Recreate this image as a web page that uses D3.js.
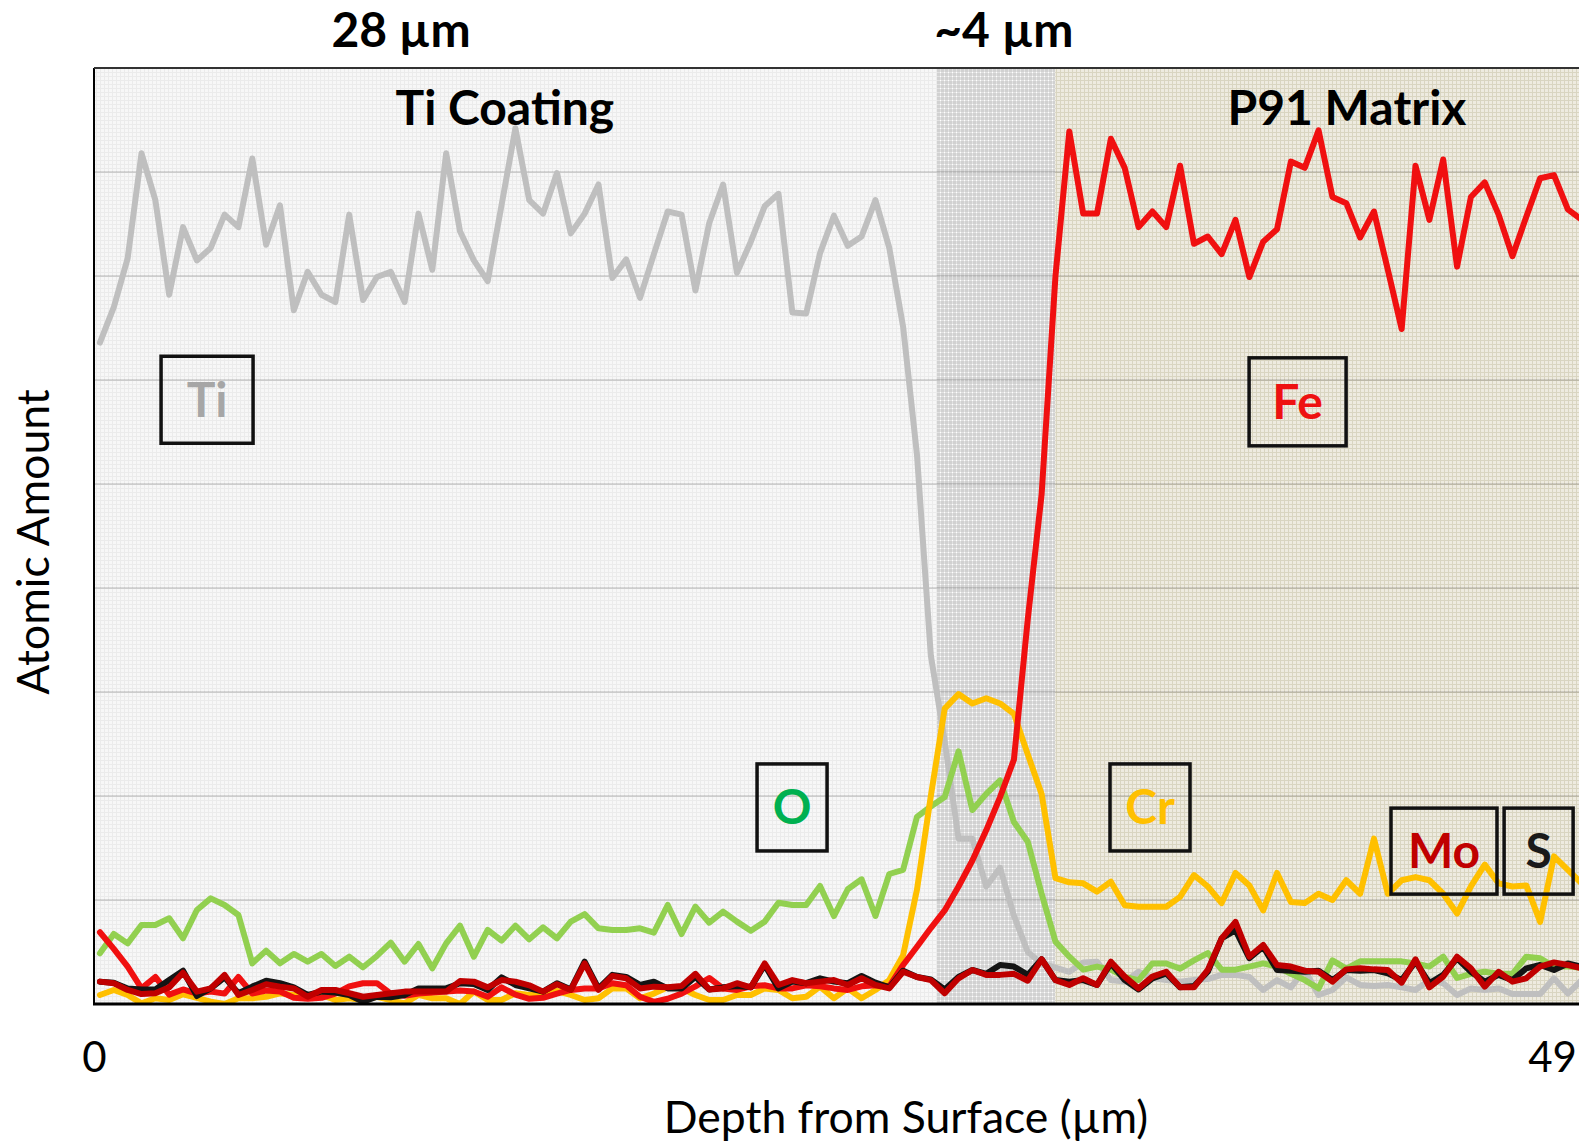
<!DOCTYPE html>
<html>
<head>
<meta charset="utf-8">
<script src="https://cdn.jsdelivr.net/npm/d3@7"></script>
<style>
  html, body { margin: 0; padding: 0; background: #fff; }
  svg { display: block; font-family: Lato, "Open Sans", sans-serif; }
</style>
</head>
<body>
<div id="chart"></div>
<script>
// CONST and DATA

// depth of sample i = depthStart + i * depthStep (µm)
const depthStart = 0.2;
const depthStep = 0.4654;

const ti = [63.6, 67.0, 71.7, 81.8, 77.3, 68.2, 74.7, 71.5, 72.7, 75.9, 74.7, 81.3, 73.0, 76.8, 66.7, 70.4, 68.2, 67.5, 75.9, 67.7,
  69.9, 70.4, 67.5, 76.0, 70.6, 81.8, 74.3, 71.5, 69.5, 76.8, 84.2, 77.3, 76.0, 79.9, 74.1, 76.0, 78.8, 69.8, 71.6, 67.9,
  72.1, 76.2, 75.9, 68.6, 75.1, 78.8, 70.3, 73.3, 76.7, 77.9, 66.5, 66.4, 72.2, 75.8, 72.9, 73.8, 77.3, 72.7, 65.1, 52.8,
  33.5, 25.3, 15.9, 15.9, 11.3, 13.1, 8.5, 5.0, 3.9, 3.5, 3.1, 4.0, 4.07, 2.3, 2.15, 3.1, 2.5, 2.3, 2.15, 2.3,
  2.4, 2.8, 2.8, 2.6, 1.35, 2.3, 1.6, 3.27, 0.87, 1.35, 2.56, 1.83, 1.73, 1.83, 1.6, 1.35, 2.3, 2.0, 0.87, 1.5,
  1.35, 1.5, 0.96, 0.96, 0.96, 2.47, 1.0, 2.3];

const fe = [6.9, 5.3, 3.6, 1.5, 2.6, 0.9, 1.4, 1.0, 1.2, 1.0, 2.6, 1.0, 1.3, 1.2, 0.6, 0.5, 0.6, 1.0, 1.7, 2.0,
  2.0, 1.0, 0.8, 1.0, 1.1, 1.2, 1.3, 1.2, 0.7, 1.6, 0.9, 0.5, 0.6, 1.0, 1.35, 1.5, 1.5, 2.0, 1.8, 0.7,
  0.2, 0.5, 1.0, 1.7, 2.5, 1.5, 1.35, 1.7, 1.8, 1.5, 1.5, 1.8, 1.7, 1.5, 1.35, 1.7, 1.8, 1.7, 3.75, 5.5,
  7.3, 9.0, 11.3, 13.8, 16.7, 19.9, 23.5, 37, 49, 70, 83.9, 76.0, 76.0, 83.2, 80.4, 74.7, 76.2, 74.7, 80.6, 73.1,
  73.8, 72.1, 75.4, 69.9, 73.3, 74.5, 81.0, 80.4, 84.0, 77.6, 77.0, 73.7, 76.2, 70.6, 64.9, 80.6, 75.4, 81.2, 70.9, 77.6,
  79.0, 75.9, 71.9, 75.7, 79.4, 79.7, 76.4, 75.4];

const o = [4.87, 6.73, 5.83, 7.6, 7.6, 8.24, 6.32, 9.04, 10.16, 9.52, 8.56, 3.91, 5.13, 3.91, 4.81, 4.07, 4.81, 3.66, 4.55, 3.53,
  4.62, 5.9, 4.07, 5.77, 3.43, 5.83, 7.53, 4.55, 7.12, 6.09, 7.53, 6.22, 7.37, 6.32, 7.92, 8.65, 7.28, 7.12, 7.12, 7.28,
  6.86, 9.52, 6.73, 9.36, 7.82, 8.88, 7.92, 7.05, 7.92, 9.74, 9.52, 9.52, 11.35, 8.46, 11.03, 11.99, 8.46, 12.5, 12.9, 18.0,
  19.0, 19.9, 24.3, 18.65, 20.2, 21.5, 17.5, 15.6, 10.6, 6.0, 4.55, 3.3, 3.6, 3.3, 2.6, 2.3, 3.9, 3.9, 3.4, 4.2,
  4.9, 3.3, 3.3, 3.6, 3.9, 3.6, 2.9, 2.3, 1.5, 4.2, 3.4, 4.1, 4.1, 4.1, 4.1, 3.9, 3.6, 4.55, 2.5, 2.9,
  3.1, 2.9, 2.9, 4.55, 4.4, 3.6, 3.6, 3.5];

const cr = [0.87, 1.35, 0.87, 0.06, 0.55, 0.38, 0.93, 0.6, 0.22, 0.0, 0.55, 0.55, 0.7, 1.03, 0.87, 0.7, 0.87, 0.38, 0.55, 0.38,
  0.7, 0.38, 0.06, 0.87, 0.55, 0.55, 0.0, 1.2, 0.38, 0.38, 1.03, 0.87, 0.87, 1.25, 0.87, 0.38, 0.55, 1.5, 1.5, 0.55,
  1.0, 1.6, 1.5, 0.87, 0.38, 0.38, 0.87, 0.87, 1.5, 1.35, 0.55, 0.7, 1.67, 0.55, 1.5, 0.55, 1.35, 2.3, 4.7, 11.0,
  20.0, 28.4, 29.8, 28.9, 29.4, 28.9, 27.9, 24.0, 20.2, 12.1, 11.7, 11.6, 10.8, 11.76, 9.5, 9.35, 9.35, 9.35, 10.3, 12.4,
  11.3, 9.7, 12.6, 11.4, 9.0, 12.6, 9.8, 9.7, 10.6, 10.0, 11.9, 10.6, 15.9, 10.6, 11.9, 12.2, 11.9, 10.6, 8.7, 11.3,
  13.4, 11.6, 11.3, 11.4, 7.9, 14.2, 12.9, 11.6];

const mo = [2.15, 1.99, 1.35, 0.96, 1.03, 1.6, 3.0, 1.19, 1.5, 2.8, 0.87, 1.35, 1.9, 1.67, 1.5, 0.7, 1.35, 1.35, 1.03, 0.7,
  0.87, 1.03, 1.19, 1.19, 1.19, 1.19, 2.2, 2.15, 1.6, 2.3, 2.15, 1.8, 1.19, 1.9, 1.35, 3.9, 1.35, 2.7, 2.47, 1.5,
  1.67, 1.6, 1.73, 2.9, 1.4, 1.5, 2.0, 1.6, 3.9, 1.83, 2.3, 2.0, 2.15, 2.3, 1.83, 2.47, 1.83, 1.5, 3.1, 2.6,
  2.3, 1.03, 2.47, 3.27, 2.8, 2.8, 2.9, 2.24, 4.3, 2.3, 1.83, 2.47, 1.83, 4.07, 2.63, 1.5, 2.63, 3.1, 1.6, 1.6,
  3.27, 6.3, 7.9, 4.55, 5.67, 3.75, 3.6, 3.2, 3.1, 2.15, 3.33, 3.43, 3.33, 3.27, 2.05, 4.3, 1.6, 2.63, 4.55, 3.43,
  1.67, 3.1, 2.15, 2.47, 3.6, 4.0, 3.75, 3.43];

const s = [2.15, 2.05, 1.5, 1.4, 1.4, 2.3, 3.2, 0.77, 1.5, 2.56, 1.03, 1.67, 2.24, 2.0, 1.6, 0.87, 1.19, 1.1, 0.87, 0.22,
  0.7, 0.64, 0.87, 1.5, 1.5, 1.5, 2.0, 1.92, 1.35, 2.56, 1.83, 1.5, 1.19, 2.0, 1.4, 4.07, 1.5, 2.8, 2.6, 1.83,
  2.15, 1.5, 1.5, 2.6, 1.4, 1.6, 1.73, 1.6, 3.75, 1.5, 2.15, 2.0, 2.47, 2.15, 2.0, 2.7, 2.05, 1.6, 3.2, 2.6,
  2.37, 1.4, 2.6, 3.27, 2.9, 3.75, 3.6, 2.8, 4.3, 2.3, 2.15, 2.3, 1.83, 3.9, 2.3, 1.4, 2.47, 2.95, 1.6, 1.73,
  3.1, 6.3, 7.1, 4.4, 5.5, 3.27, 3.2, 3.1, 3.2, 2.3, 3.27, 3.2, 3.27, 2.95, 2.3, 4.07, 2.0, 2.8, 4.4, 3.1,
  2.15, 2.8, 2.3, 3.43, 3.75, 3.27, 3.9, 3.6];

// zones along the depth axis (µm)
const zoneNames = ["coating", "interface", "matrix"];
const zoneBounds = [[0, 28.33], [28.33, 32.3], [32.3, 50.6]];

// headers above / inside the plot: text and depth of centre
const headerTexts = ["28 µm", "~4 µm", "Ti Coating", "P91 Matrix"];
const headerDepths = [10.32, 30.58, 13.81, 42.11];

// element tags: name, depth and amount of the box centre
const tagNames = ["Ti", "Fe", "O", "Cr", "Mo", "S"];
const tagDepths = [3.80, 40.45, 23.46, 35.49, 45.37, 48.55];
const tagAmounts = [58.1, 57.9, 18.9, 18.9, 14.7, 14.7];

const xTicks = [0, 49];

// LAYOUT
const width = 1579, height = 1146;
const margin = { top: 68, bottom: 142, left: 94, right: 0 };

const xScale = d3.scaleLinear().domain([0, 49]).range([margin.left, 1552]);
const yScale = d3.scaleLinear().domain([0, 90]).range([height - margin.bottom, margin.top]);

const series = [
  { name: "Ti", values: ti, color: "#bfbfbf" },
  { name: "O", values: o, color: "#92d050" },
  { name: "Cr", values: cr, color: "#ffc000" },
  { name: "Fe", values: fe, color: "#f01010" },
  { name: "S", values: s, color: "#141414" },
  { name: "Mo", values: mo, color: "#c00000" },
];
const tagColors = { Ti: "#a6a6a6", Fe: "#ee1111", O: "#00b050", Cr: "#ffc000", Mo: "#c00000", S: "#1a1a1a" };
const tagSizes = { Ti: [92, 87], Fe: [97, 88], O: [70, 87], Cr: [80, 87], Mo: [106, 86], S: [69, 86] };

const svg = d3.select("#chart").append("svg")
  .attr("width", width)
  .attr("height", height);

// patterns for the three zones
const defs = svg.append("defs");
function addPattern(id, base, line, dot) {
  const p = defs.append("pattern").attr("id", id)
    .attr("width", 4).attr("height", 4).attr("patternUnits", "userSpaceOnUse");
  p.append("rect").attr("width", 4).attr("height", 4).attr("fill", base);
  p.append("rect").attr("width", 4).attr("height", 1).attr("fill", line);
  p.append("rect").attr("width", 1).attr("height", 4).attr("fill", line);
  if (dot) p.append("rect").attr("width", 1).attr("height", 1).attr("fill", dot);
}
addPattern("coating", "#f7f7f7", "#ebebeb", null);
addPattern("interface", "#d1d1d1", "#e2e2e2", "#ffffff");
addPattern("matrix", "#eeebe0", "#d9d5c1", null);

defs.append("clipPath").attr("id", "plotClip")
  .append("rect")
  .attr("x", margin.left).attr("y", margin.top - 10)
  .attr("width", width - margin.left).attr("height", yScale(0) - margin.top + 10);

const yBottom = yScale(0), yTop = yScale(90);

// zone backgrounds
svg.append("g").selectAll("rect")
  .data(zoneNames)
  .join("rect")
  .attr("x", (d, i) => xScale(zoneBounds[i][0]))
  .attr("width", (d, i) => Math.min(width, xScale(zoneBounds[i][1])) - xScale(zoneBounds[i][0]))
  .attr("y", yTop)
  .attr("height", yBottom - yTop)
  .attr("fill", (d) => `url(#${d})`);

// gridlines
svg.append("g")
  .selectAll("line")
  .data(yScale.ticks(9).filter((d) => d > 0))
  .join("line")
  .attr("x1", margin.left).attr("x2", width)
  .attr("y1", (d) => yScale(d)).attr("y2", (d) => yScale(d))
  .attr("stroke", "rgba(0,0,0,0.13)")
  .attr("stroke-width", 2);

// lines
const line = d3.line()
  .x((d, i) => xScale(depthStart + i * depthStep))
  .y((d) => yScale(d));

svg.append("g")
  .attr("clip-path", "url(#plotClip)")
  .selectAll("path")
  .data(series)
  .join("path")
  .attr("d", (d) => line(d.values))
  .attr("fill", "none")
  .attr("stroke", (d) => d.color)
  .attr("stroke-width", 6)
  .attr("stroke-linejoin", "round")
  .attr("stroke-linecap", "round");

// frame: left, top, bottom
svg.append("line")
  .attr("x1", margin.left).attr("x2", margin.left)
  .attr("y1", yTop).attr("y2", yBottom)
  .attr("stroke", "#000").attr("stroke-width", 2);
svg.append("line")
  .attr("x1", margin.left).attr("x2", width)
  .attr("y1", yTop).attr("y2", yTop)
  .attr("stroke", "#333").attr("stroke-width", 2);
svg.append("line")
  .attr("x1", margin.left - 1).attr("x2", width)
  .attr("y1", yBottom).attr("y2", yBottom)
  .attr("stroke", "#000").attr("stroke-width", 3);

// x axis: only end labels
const xAxis = d3.axisBottom(xScale).tickValues(xTicks).tickSize(0).tickPadding(38);
const gx = svg.append("g")
  .attr("transform", `translate(0,${yBottom})`)
  .call(xAxis);
gx.select(".domain").remove();
gx.selectAll("text")
  .attr("font-family", "Lato, 'Open Sans', sans-serif")
  .attr("font-size", 42)
  .attr("fill", "#000");

// axis titles
svg.append("text")
  .attr("x", 906).attr("y", 1133)
  .attr("text-anchor", "middle")
  .attr("font-size", 44.5)
  .text("Depth from Surface (µm)");

svg.append("text")
  .attr("transform", `translate(49,${542}) rotate(-90)`)
  .attr("text-anchor", "middle")
  .attr("font-size", 44.5)
  .text("Atomic Amount");

// headers
svg.append("g").selectAll("text")
  .data(headerTexts)
  .join("text")
  .attr("x", (d, i) => xScale(headerDepths[i]))
  .attr("y", (d, i) => (i < 2 ? 47 : 125))
  .attr("text-anchor", "middle")
  .attr("font-size", 48)
  .attr("font-weight", 700)
  .text((d) => d);

// element tags
const tags = svg.append("g").selectAll("g")
  .data(tagNames)
  .join("g")
  .attr("transform", (d, i) => `translate(${xScale(tagDepths[i])},${yScale(tagAmounts[i])})`);

tags.append("rect")
  .attr("x", (d) => -tagSizes[d][0] / 2)
  .attr("y", (d) => -tagSizes[d][1] / 2)
  .attr("width", (d) => tagSizes[d][0])
  .attr("height", (d) => tagSizes[d][1])
  .attr("fill", "none")
  .attr("stroke", "#111")
  .attr("stroke-width", 3.5);

tags.append("text")
  .attr("text-anchor", "middle")
  .attr("y", 17)
  .attr("font-size", 48)
  .attr("font-weight", 700)
  .attr("fill", (d) => tagColors[d])
  .text((d) => d);
</script>
</body>
</html>
